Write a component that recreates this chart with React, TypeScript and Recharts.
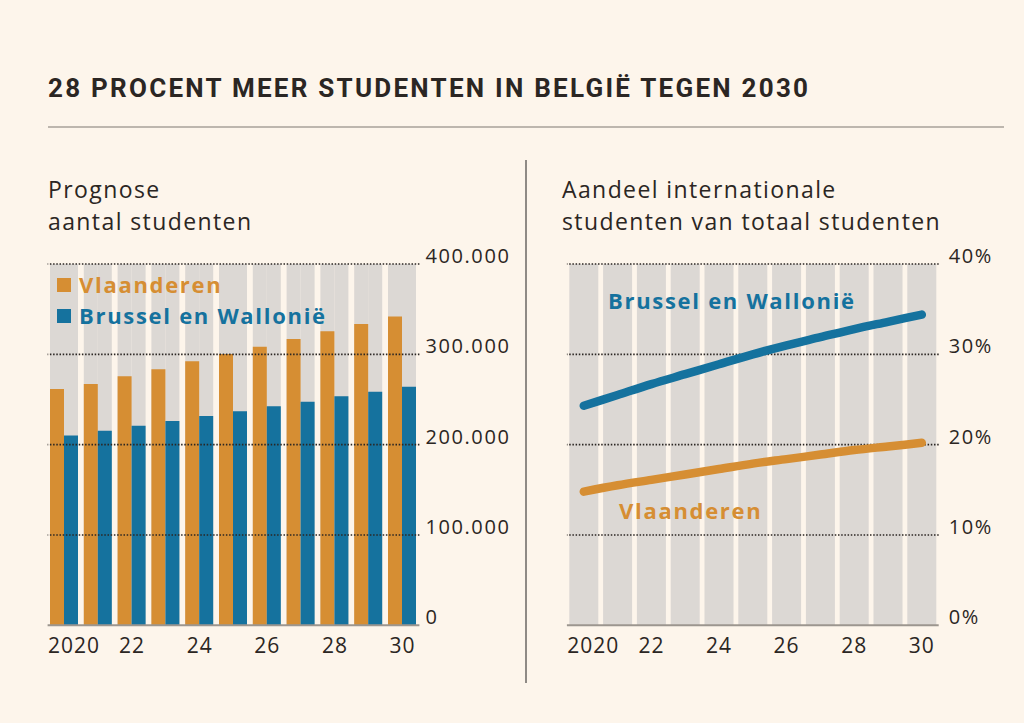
import React from 'react'
import {
  ComposedChart, BarChart, Bar, Line, XAxis, YAxis, ReferenceLine, ReferenceArea,
} from 'recharts'

const years = ['2020', '2021', '2022', '2023', '2024', '2025', '2026', '2027', '2028', '2029', '2030']
const yearLabels = ['2020', '', '22', '', '24', '', '26', '', '28', '', '30']

// prognose aantal studenten
const studentsFlanders = [261700, 267200, 275700, 283500, 292400, 300400, 308500, 317000, 325600, 333700, 341800]
const studentsBrusselsWallonia = [210000, 215500, 221000, 226200, 231800, 237000, 242500, 247600, 253600, 258700, 264200]
const countTicks = [0, 100000, 200000, 300000, 400000]

// aandeel internationale studenten (%)
const intlFlanders = [14.8, 15.5, 16.1, 16.7, 17.3, 17.9, 18.4, 18.9, 19.4, 19.8, 20.2]
const intlBrusselsWallonia = [24.3, 25.5, 26.7, 27.8, 28.9, 30.0, 31.0, 31.9, 32.8, 33.6, 34.4]
const pctTicks = [0, 10, 20, 30, 40]

const BG = '#fdf5eb'
const INK = '#2b2623'
const ORANGE = '#d68e33'
const BLUE = '#15729e'
const BAND = '#dcd8d4'
const RULE = '#bdb6ae'
const FONT = '"Open Sans", sans-serif'
const INSET = 2.4

const countData = years.map((y, i) => ({ year: y, vl: studentsFlanders[i], bw: studentsBrusselsWallonia[i] }))
const pctData = years.map((y, i) => ({ year: y, vl: intlFlanders[i], bw: intlBrusselsWallonia[i] }))

const dotThousands = (v: number) => String(v).replace(/\B(?=(\d{3})+(?!\d))/g, '.')

function YearTick({ x, y, payload }: any) {
  const i = years.indexOf(payload.value)
  const first = i === 0
  return (
    <text x={first ? x - 16.5 : x} y={y + 27.5} textAnchor={first ? 'start' : 'middle'}
      fill={INK} fontSize={21} fontFamily={FONT} letterSpacing={1}>
      {yearLabels[i]}
    </text>
  )
}

const valueTick = (fmt: (v: number) => string) => ({ x, y, payload }: any) => (
  <text x={x} y={y - 1} textAnchor="start" fill={INK} fontSize={20} fontFamily={FONT} letterSpacing={1.6}>
    {fmt(payload.value)}
  </text>
)

const labelStyle: React.CSSProperties = {
  position: 'absolute', fontFamily: FONT, fontWeight: 700, fontSize: 22, letterSpacing: 1.7, lineHeight: '30px', whiteSpace: 'nowrap',
}
const subStyle: React.CSSProperties = {
  position: 'absolute', fontFamily: FONT, fontSize: 23, letterSpacing: 1.4, lineHeight: '32px', color: INK, whiteSpace: 'nowrap',
}

export default function App() {
  return (
    <div style={{ position: 'absolute', left: 0, top: 0, width: 1024, height: 723, background: BG, overflow: 'hidden' }}>
      <div style={{ position: 'absolute', left: 48, top: 72, fontFamily: 'Roboto, sans-serif', fontWeight: 700, fontSize: 26, letterSpacing: 2.25, color: INK, whiteSpace: 'nowrap', lineHeight: '32px' }}>
        28 PROCENT MEER STUDENTEN IN BELGIË TEGEN 2030
      </div>
      <div style={{ position: 'absolute', left: 48, top: 126, width: 956, height: 2, background: RULE }} />
      <div style={{ position: 'absolute', left: 524.5, top: 160, width: 2, height: 523, background: '#8f8a85' }} />

      <div style={{ ...subStyle, left: 48, top: 173 }}>Prognose<br />aantal studenten</div>
      <div style={{ ...subStyle, left: 562, top: 173 }}>Aandeel internationale<br />studenten van totaal studenten</div>

      {/* Left: bar chart */}
      <div style={{ position: 'absolute', left: 0, top: 0 }}>
        <BarChart width={520} height={700} data={countData} barCategoryGap={INSET} barGap={0}
          margin={{ top: 264, right: 0.6, bottom: 34.7, left: 47.6 }}>
          <XAxis dataKey="year" interval={0} tick={<YearTick />} tickLine={false} tickSize={0} tickMargin={0} height={40}
            axisLine={{ stroke: '#9c968f', strokeWidth: 2 }} />
          <YAxis orientation="right" width={100} domain={[0, 400000]} ticks={countTicks} axisLine={false} tickLine={false}
            tickSize={0} tickMargin={6} tick={valueTick(dotThousands)} />
          <Bar dataKey="vl" fill={ORANGE} background={{ fill: BAND }} isAnimationActive={false} />
          <Bar dataKey="bw" fill={BLUE} background={{ fill: BAND }} isAnimationActive={false} />
          {countTicks.filter((t) => t > 0).map((t) => (
            <ReferenceLine key={t} y={t} stroke={INK} strokeWidth={1.6} strokeDasharray="1.5 1.7" />
          ))}
        </BarChart>
      </div>

      {/* legend */}
      <div style={{ position: 'absolute', left: 57, top: 278, width: 14, height: 14, background: ORANGE }} />
      <div style={{ ...labelStyle, left: 79, top: 269, color: ORANGE }}>Vlaanderen</div>
      <div style={{ position: 'absolute', left: 57, top: 308.5, width: 14, height: 14, background: BLUE }} />
      <div style={{ ...labelStyle, left: 79, top: 300, color: BLUE }}>Brussel en Wallonië</div>

      {/* Right: line chart */}
      <div style={{ position: 'absolute', left: 520, top: 0 }}>
        <ComposedChart width={504} height={700} data={pctData}
          margin={{ top: 264, right: 0.3, bottom: 34.7, left: 46.9 }}>
          <XAxis dataKey="year" scale="band" interval={0} tick={<YearTick />} tickLine={false} tickSize={0} tickMargin={0} height={40}
            axisLine={{ stroke: '#9c968f', strokeWidth: 2 }} />
          <YAxis orientation="right" width={85} domain={[0, 40]} ticks={pctTicks} axisLine={false} tickLine={false}
            tickSize={0} tickMargin={10} tick={valueTick((v) => `${v}%`)} />
          {years.map((y) => (
            <ReferenceArea key={y} x1={y} x2={y} ifOverflow="visible"
              shape={(p: any) => <rect x={p.x + INSET} y={p.y} width={p.width - 2 * INSET} height={p.height} fill={BAND} />} />
          ))}
          {pctTicks.filter((t) => t > 0).map((t) => (
            <ReferenceLine key={t} y={t} stroke={INK} strokeWidth={1.6} strokeDasharray="1.5 1.7" />
          ))}
          <Line type="monotone" dataKey="bw" stroke={BLUE} strokeWidth={8.5} strokeLinecap="round" dot={false} isAnimationActive={false} />
          <Line type="monotone" dataKey="vl" stroke={ORANGE} strokeWidth={8.5} strokeLinecap="round" dot={false} isAnimationActive={false} />
        </ComposedChart>
      </div>

      <div style={{ ...labelStyle, left: 608, top: 285, color: BLUE }}>Brussel en Wallonië</div>
      <div style={{ ...labelStyle, left: 619, top: 495, color: ORANGE }}>Vlaanderen</div>
    </div>
  )
}
